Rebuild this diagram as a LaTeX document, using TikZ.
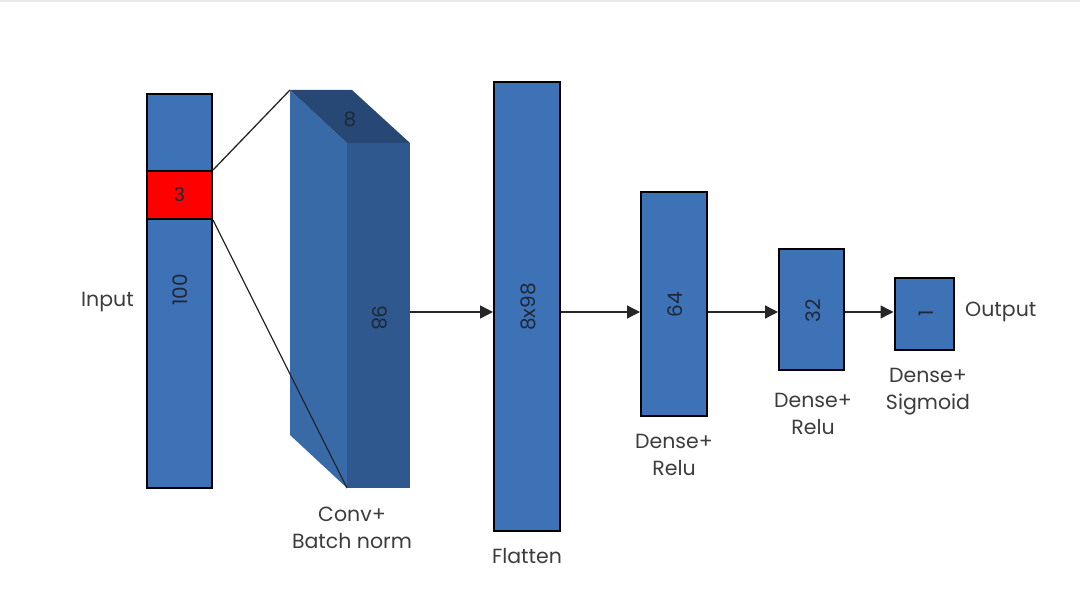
\documentclass[tikz,border=0pt]{standalone}
\usepackage{fontspec}
\setmainfont{Poppins}
\usetikzlibrary{arrows.meta,calc}
\definecolor{boxblue}{RGB}{61,114,182}
\definecolor{convlight}{RGB}{56,106,168}
\definecolor{convdark}{RGB}{47,88,142}
\definecolor{convtop}{RGB}{39,72,116}
\definecolor{txtgray}{RGB}{60,60,60}
\definecolor{numcol}{RGB}{30,40,55}
\tikzset{
  blk/.style={draw=black, line width=2pt, fill=boxblue, inner sep=0pt},
  redblk/.style={draw=black, line width=2pt, fill=red, inner sep=0pt, text=numcol, font=\fontsize{19}{22}\selectfont},
  num/.style={text=numcol, font=\fontsize{20}{23}\selectfont, inner sep=0pt},
  lbl/.style={text=txtgray, font=\fontsize{20.5}{27}\selectfont, align=center, inner sep=0pt},
  arr/.style={draw=black!85, line width=1.4pt, -{Triangle[length=13pt,width=13pt]}},
  thin/.style={draw=black!85, line width=1.3pt}
}
\begin{document}
\begin{tikzpicture}[x=1pt,y=-1pt]
\useasboundingbox (0,0) rectangle (1080,609);
\fill[gray!18] (0,0) rectangle (1080,2.5);
% input
\node[blk, minimum width=65pt, minimum height=394pt] (inp) at (179.5,291) {};
\node[redblk, minimum width=65pt, minimum height=48pt] (red) at (179.5,195) {3};
\node[num, rotate=90] (n100) at (180,290) {100};
\node[lbl, anchor=east] (linput) at (134,302) {Input};
% conv block
\fill[convlight] (290,90) -- (347,143) -- (347,488) -- (290,435) -- cycle;
\fill[convdark] (347,143) -- (410,143) -- (410,488) -- (347,488) -- cycle;
\fill[convtop] (290,90) -- (352,90) -- (410,143) -- (347,143) -- cycle;
\node[minimum width=63pt, minimum height=345pt, inner sep=0pt] (cf) at (378.5,315.5) {};
\node[num, rotate=-90] (n98) at (380,318) {98};
\node[num] (n8) at (350,119) {8};
\coordinate (ctl) at (290,90);
\coordinate (cbl) at (347,488);
\draw[thin] (red.north east) -- (ctl);
\draw[thin] (red.south east) -- (cbl);
\node[lbl] (lconv) at (352,528) {Conv+\\Batch norm};
% flatten
\node[blk, minimum width=66pt, minimum height=449pt] (flat) at (527,306.5) {};
\node[num, rotate=90] (n898) at (528,307) {8x98};
\node[lbl] (lflat) at (527,556) {Flatten};
% dense 64
\node[blk, minimum width=66pt, minimum height=224pt] (d64) at (674,304) {};
\node[num, rotate=90] at (675,305) {64};
\node[lbl] (l64) at (674,455) {Dense+\\Relu};
% dense 32
\node[blk, minimum width=65pt, minimum height=121pt] (d32) at (811.5,310) {};
\node[num, rotate=90] at (813,311) {32};
\node[lbl] (l32) at (813,414) {Dense+\\Relu};
% dense 1
\node[blk, minimum width=59pt, minimum height=72pt] (d1) at (924,314) {};
\node[num, rotate=90] at (926,313) {1};
\node[lbl] (l1) at (928,392) {Dense+\\Sigmoid};
\node[lbl, anchor=west] (lout) at (965,312) {Output};
% arrows
\coordinate (ay) at (0,312);
\draw[arr] (cf.east |- ay) -- (flat.west |- ay);
\draw[arr] (flat.east |- ay) -- (d64.west |- ay);
\draw[arr] (d64.east |- ay) -- (d32.west |- ay);
\draw[arr] (d32.east |- ay) -- (d1.west |- ay);
\end{tikzpicture}
\end{document}
